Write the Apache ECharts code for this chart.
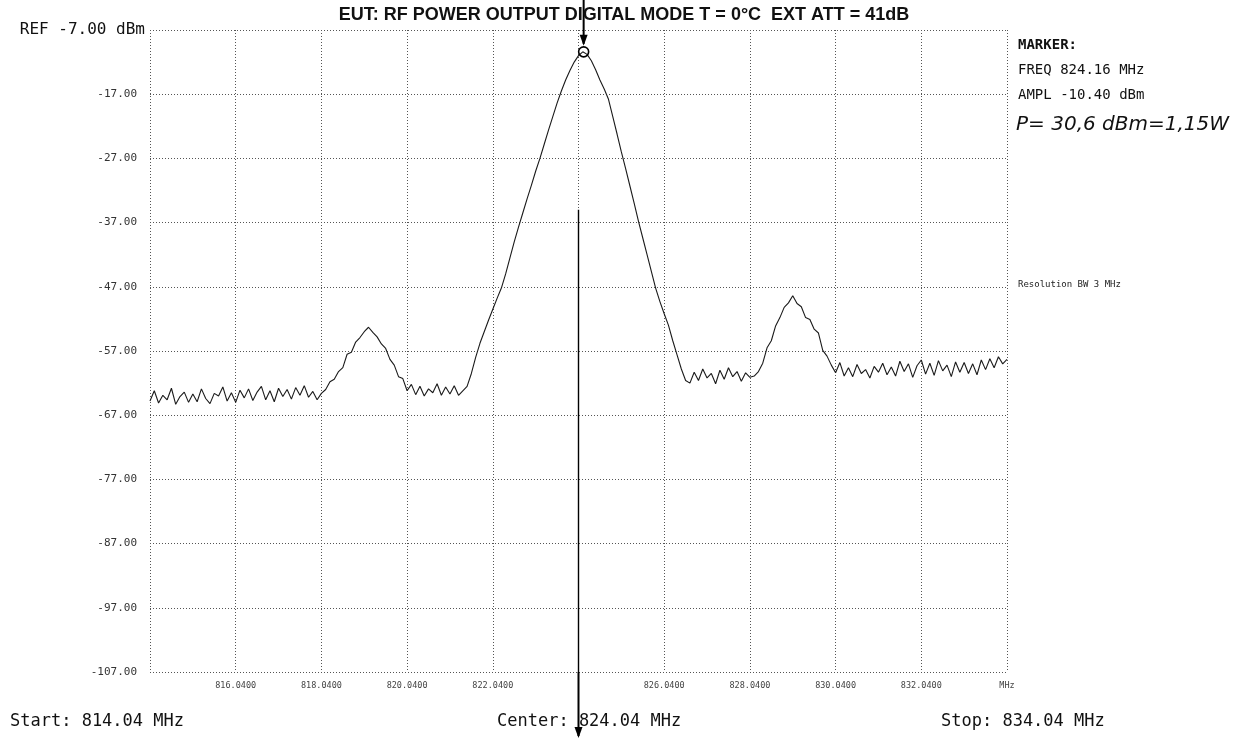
<!DOCTYPE html>
<html>
<head>
<meta charset="utf-8">
<script src="https://cdn.jsdelivr.net/npm/echarts@6/dist/echarts.min.js"></script>
<style>
html,body{margin:0;padding:0;background:#fff;}
#c{width:1248px;height:740px;}
</style>
</head>
<body>
<div id="c"></div>
<script>
// ---- data ----
const sweepStartMHz = 814.04;
const sweepStopMHz = 834.04;
const sweepStepMHz = 0.1;
const traceDbm = [
  -64.8,-63.2,-65.1,-63.9,-64.6,-62.8,-65.3,-64.1,-63.4,-65.0,
  -63.7,-64.9,-62.9,-64.4,-65.2,-63.6,-64.0,-62.6,-64.8,-63.5,
  -65.0,-63.1,-64.3,-62.9,-64.7,-63.4,-62.5,-64.6,-63.2,-64.9,
  -62.8,-64.1,-63.0,-64.5,-62.7,-63.9,-62.4,-64.2,-63.3,-64.6,
  -63.6,
  -63.0,-61.8,-61.4,-60.2,-59.6,-57.5,-57.2,-55.6,-54.9,-54.0,
  -53.3,-54.1,-54.8,-55.9,-56.6,-58.3,-59.2,-61.0,-61.3,-63.2,
  -62.2,-63.8,-62.5,-64.0,-62.9,-63.5,-62.1,-63.9,-62.6,-63.7,-62.4,-63.9,-63.2,
  -62.5,-60.5,-58.0,-55.8,-54.0,-52.2,-50.5,-48.8,-47.2,-45.0,
  -42.5,-40.0,-37.7,-35.5,-33.3,-31.2,-29.0,-27.0,-24.8,-22.6,
  -20.5,-18.4,-16.5,-14.8,-13.3,-12.0,-11.0,-10.4,
  -10.8,-11.8,-13.2,-14.8,-16.2,-17.8,-20.5,-23.2,-26.0,-28.6,
  -31.3,-34.0,-36.8,-39.4,-42.0,-44.6,-47.2,-49.3,-51.2,-53.0,
  -55.4,-57.6,-59.8,-61.6,
  -62.0,-60.3,-61.6,-59.8,-61.2,-60.5,-62.1,-60.0,-61.4,-59.6,-61.0,-60.2,-61.7,-60.4,-61.1,-60.9,
  -60.2,-58.9,-56.5,-55.4,-53.1,-51.8,-50.2,-49.5,-48.4,-49.6,
  -50.1,-51.8,-52.1,-53.6,-54.2,-56.9,-57.8,-59.2,
  -60.4,-58.8,-60.9,-59.6,-61.0,-59.1,-60.5,-59.9,-61.2,-59.4,
  -60.3,-58.9,-60.7,-59.5,-60.9,-58.6,-60.2,-59.0,-61.1,-59.3,
  -58.4,-60.6,-58.9,-60.8,-58.5,-60.1,-59.2,-61.0,-58.7,-60.3,
  -58.8,-60.5,-59.0,-60.7,-58.4,-59.9,-58.2,-59.6,-57.9,-59.0,-58.3
];
const markerFreqMHz = 824.16;
const markerAmplDbm = -10.40;
const centerFreqMHz = 824.04;
const xTickLabels = ['', '816.0400', '818.0400', '820.0400', '822.0400', '', '826.0400', '828.0400', '830.0400', '832.0400', 'MHz'];
const yTickLabels = ['-107.00', '-97.00', '-87.00', '-77.00', '-67.00', '-57.00', '-47.00', '-37.00', '-27.00', '-17.00', 'REF -7.00 dBm'];
const titleText = 'EUT: RF POWER OUTPUT DIGITAL MODE T = 0°C  EXT ATT = 41dB';
const markerLines = ['MARKER:', 'FREQ 824.16 MHz', 'AMPL -10.40 dBm'];
const handNote = 'P= 30,6 dBm=1,15W';
const rbwText = 'Resolution BW 3 MHz';
const footerTexts = ['Start: 814.04 MHz', 'Center: 824.04 MHz', 'Stop: 834.04 MHz'];

// ---- chart ----
const seriesData = traceDbm.map((v, i) => [+(sweepStartMHz + i * sweepStepMHz).toFixed(2), v]);
const mono = '"DejaVu Sans Mono", "Liberation Mono", monospace';
const chart = echarts.init(document.getElementById('c'), null, {renderer: 'canvas'});
const gridLine = {show: true, lineStyle: {color: '#555', width: 1, type: [1, 2]}};

chart.setOption({
  animation: false,
  backgroundColor: '#fff',
  title: {
    text: titleText, left: 'center', top: 1,
    textStyle: {fontFamily: '"Liberation Sans", Arial, sans-serif', fontWeight: 'bold', fontSize: 18, color: '#111'}
  },
  grid: {left: 150, right: 241, top: 30, bottom: 68},
  xAxis: {
    type: 'value', min: sweepStartMHz, max: sweepStopMHz, interval: 2,
    axisLine: {show: false}, axisTick: {show: false},
    splitLine: gridLine,
    axisLabel: {
      margin: 9, fontFamily: mono, fontSize: 8.5, color: '#444',
      showMinLabel: true, showMaxLabel: true, hideOverlap: false,
      formatter: (v, i) => xTickLabels[i] ?? ''
    }
  },
  yAxis: {
    type: 'value', min: -107, max: -7, interval: 10,
    axisLine: {show: false}, axisTick: {show: false},
    splitLine: gridLine,
    axisLabel: {
      margin: 13, fontFamily: mono, fontSize: 11, color: '#333',
      showMinLabel: true, showMaxLabel: true,
      formatter: (v, i) => i === yTickLabels.length - 1 ? '{ref|' + yTickLabels[i] + '}' : yTickLabels[i],
      rich: {ref: {fontFamily: mono, fontSize: 16, color: '#111', padding: [0, -8, 0, 0]}}
    }
  },
  series: [{
    type: 'line', data: seriesData, showSymbol: false, clip: false,
    lineStyle: {color: '#1a1a1a', width: 1.1},
    markPoint: {
      symbol: 'circle', symbolSize: 10,
      itemStyle: {color: 'rgba(0,0,0,0)', borderColor: '#000', borderWidth: 1.6},
      label: {show: false},
      data: [{coord: [markerFreqMHz, markerAmplDbm]}]
    }
  }]
});

// annotations positioned through the axes
const pTop = chart.convertToPixel({gridIndex: 0}, [markerFreqMHz, markerAmplDbm]);
const pCenterMid = chart.convertToPixel({gridIndex: 0}, [centerFreqMHz, -35]);
const pCenterBot = chart.convertToPixel({gridIndex: 0}, [centerFreqMHz, -107]);
const pRight = chart.convertToPixel({gridIndex: 0}, [sweepStopMHz, -7]);
const pRbw = chart.convertToPixel({gridIndex: 0}, [sweepStopMHz, -47]);
const tx = pRight[0] + 11;

function arrowDown(x, y1, y2) {
  return [
    {type: 'line', shape: {x1: x, y1: y1, x2: x, y2: y2 - 2}, style: {stroke: '#000', lineWidth: 2}},
    {type: 'polygon', shape: {points: [[x - 4, y2 - 11], [x + 4, y2 - 11], [x, y2]]}, style: {fill: '#000'}}
  ];
}

const g = [];
g.push(...arrowDown(pTop[0], 0, pTop[1] - 6));
g.push({type: 'line', shape: {x1: pCenterMid[0], y1: pCenterMid[1], x2: pCenterBot[0], y2: pCenterBot[1]}, style: {stroke: '#000', lineWidth: 1.4}});
g.push(...arrowDown(pCenterBot[0], pCenterBot[1], 738));
g.push({type: 'text', left: tx, top: 38, style: {text: markerLines[0], font: 'bold 14px ' + mono, fill: '#111'}});
g.push({type: 'text', left: tx, top: 63, style: {text: markerLines[1], font: '14px ' + mono, fill: '#111'}});
g.push({type: 'text', left: tx, top: 88, style: {text: markerLines[2], font: '14px ' + mono, fill: '#111'}});
g.push({type: 'text', left: tx - 2, top: 115, style: {text: handNote, font: 'italic 20px "DejaVu Sans", sans-serif', fill: '#111'}});
g.push({type: 'text', left: tx, top: pRbw[1] - 7, style: {text: rbwText, font: '9px ' + mono, fill: '#222'}});
g.push({type: 'text', left: 10, top: 713, style: {text: footerTexts[0], font: '17px ' + mono, fill: '#111'}});
g.push({type: 'text', left: 497, top: 713, style: {text: footerTexts[1], font: '17px ' + mono, fill: '#111'}});
g.push({type: 'text', left: 941, top: 713, style: {text: footerTexts[2], font: '17px ' + mono, fill: '#111'}});
chart.setOption({graphic: g});
</script>
</body>
</html>
